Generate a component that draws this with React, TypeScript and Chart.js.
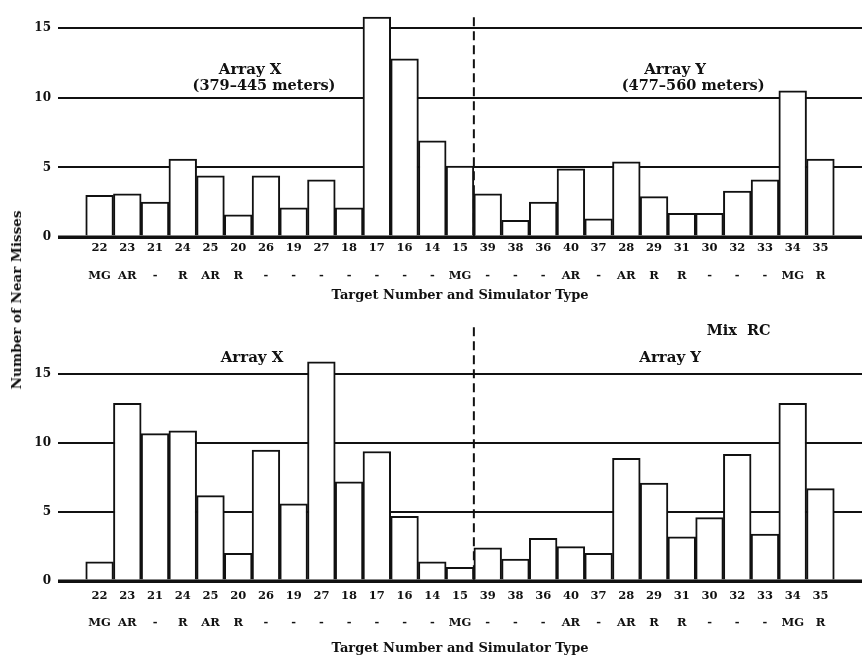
import React, { useEffect, useRef } from 'react';
import { Chart, registerables } from 'chart.js';

Chart.register(...registerables);

// ---- data ----
const targets = ['22', '23', '21', '24', '25', '20', '26', '19', '27', '18', '17', '16', '14', '15', '39', '38', '36', '40', '37', '28', '29', '31', '30', '32', '33', '34', '35'];
const simulatorTypes = ['MG', 'AR', '-', 'R', 'AR', 'R', '-', '-', '-', '-', '-', '-', '-', 'MG', '-', '-', '-', 'AR', '-', 'AR', 'R', 'R', '-', '-', '-', 'MG', 'R'];
const nearMissesTop = [3.0, 3.1, 2.5, 5.6, 4.4, 1.6, 4.4, 2.1, 4.1, 2.1, 15.8, 12.8, 6.9, 5.1, 3.1, 1.2, 2.5, 4.9, 1.3, 5.4, 2.9, 1.7, 1.7, 3.3, 4.1, 10.5, 5.6];
const nearMissesBottom = [1.4, 12.9, 10.7, 10.9, 6.2, 2.0, 9.5, 5.6, 15.9, 7.2, 9.4, 4.7, 1.4, 1.0, 2.4, 1.6, 3.1, 2.5, 2.0, 8.9, 7.1, 3.2, 4.6, 9.2, 3.4, 12.9, 6.7];
const yTickValues = [0, 5, 10, 15];
const lastArrayXTarget = '15';

const FONT = "'DejaVu Serif', serif";

type Note = { text: string; x: number; y: number; size: number };

function overlayPlugin(dividerTop: number, notes: Note[]) {
  return {
    id: 'overlay',
    afterDatasetsDraw(chart: any) {
      const { ctx, chartArea, scales } = chart;
      const xs = scales.x;
      const ys = scales.y;
      const y0 = ys.getPixelForValue(0);
      ctx.save();
      ctx.strokeStyle = '#111';
      ctx.lineWidth = 3;
      ctx.beginPath();
      ctx.moveTo(chartArea.left, y0);
      ctx.lineTo(chartArea.right, y0);
      ctx.stroke();
      // dashed divider between Array X and Array Y
      const idx = targets.indexOf(lastArrayXTarget) + 1; // padded index
      const xd = (xs.getPixelForValue(idx) + xs.getPixelForValue(idx + 1)) / 2;
      ctx.lineWidth = 2;
      ctx.setLineDash([9, 5]);
      ctx.beginPath();
      ctx.moveTo(xd, ys.getPixelForValue(dividerTop));
      ctx.lineTo(xd, y0);
      ctx.stroke();
      ctx.setLineDash([]);
      ctx.fillStyle = '#111';
      ctx.textAlign = 'center';
      ctx.textBaseline = 'middle';
      for (const n of notes) {
        ctx.font = `bold ${n.size}px ${FONT}`;
        ctx.fillText(n.text, xs.getPixelForValue(n.x), ys.getPixelForValue(n.y));
      }
      ctx.restore();
    },
  };
}

type PanelProps = {
  values: number[];
  height: number;
  axisHeight: number;
  yMax: number;
  padTop: number;
  tickPad: number;
  tickLine: number;
  titlePadBottom: number;
  dividerTop: number;
  notes: Note[];
};

function Panel(p: PanelProps) {
  const ref = useRef<HTMLCanvasElement | null>(null);
  useEffect(() => {
    if (!ref.current) return;
    const labels = [['', ''], ...targets.map((t, i) => [t, simulatorTypes[i]]), ['', '']];
    const data = [null, ...p.values, null];
    const chart = new Chart(ref.current, {
      type: 'bar',
      data: {
        labels,
        datasets: [
          {
            data,
            backgroundColor: '#ffffff',
            borderColor: '#111',
            borderWidth: 2,
            barPercentage: 1,
            categoryPercentage: 1,
          },
        ],
      },
      options: {
        responsive: false,
        animation: false,
        events: [],
        layout: { padding: { top: p.padTop, right: 2, left: 0, bottom: 0 } },
        plugins: { legend: { display: false }, tooltip: { enabled: false } },
        scales: {
          x: {
            type: 'category',
            offset: true,
            grid: { display: false, drawTicks: false },
            border: { display: false },
            ticks: {
              autoSkip: false,
              maxRotation: 0,
              minRotation: 0,
              padding: p.tickPad,
              color: '#111',
              font: { family: FONT, weight: 'bold', size: 11.5, lineHeight: `${p.tickLine}px` },
            },
            title: {
              display: true,
              text: 'Target Number and Simulator Type',
              color: '#111',
              padding: { top: 0, bottom: p.titlePadBottom },
              font: { family: FONT, weight: 'bold', size: 13, lineHeight: '20px' },
            },
            afterFit: (s: any) => {
              s.height = p.axisHeight;
            },
          },
          y: {
            min: 0,
            max: p.yMax,
            afterBuildTicks: (s: any) => {
              s.ticks = yTickValues.map((v) => ({ value: v }));
            },
            grid: {
              color: '#111',
              lineWidth: (c: any) => (c.tick && c.tick.value === 0 ? 3 : 2),
              drawTicks: false,
            },
            border: { display: false },
            ticks: {
              padding: 7,
              color: '#111',
              font: { family: FONT, weight: 'bold', size: 12 },
            },
            afterFit: (s: any) => {
              s.width = 58;
            },
          },
        },
      },
      plugins: [overlayPlugin(p.dividerTop, p.notes)],
    } as any);
    return () => chart.destroy();
  }, []);
  return <canvas ref={ref} width={864} height={p.height} style={{ display: 'block', width: 864, height: p.height }} />;
}

const topNotes: Note[] = [
  { text: 'Array X', x: 6.43, y: 12.0, size: 15 },
  { text: '(379–445 meters)', x: 6.93, y: 10.83, size: 14.5 },
  { text: 'Array Y', x: 21.76, y: 12.0, size: 15 },
  { text: '(477–560 meters)', x: 22.41, y: 10.83, size: 14.5 },
];

const bottomNotes: Note[] = [
  { text: 'Array X', x: 6.5, y: 16.2, size: 15 },
  { text: 'Array Y', x: 21.58, y: 16.2, size: 15 },
  { text: 'Mix  RC', x: 24.05, y: 18.15, size: 14.5 },
];

export default function App() {
  return (
    <div style={{ position: 'fixed', left: 0, top: 0, width: 864, height: 665, background: '#fff', overflow: 'hidden' }}>
      <div style={{ position: 'absolute', left: 0, top: 0 }}>
        <Panel
          values={nearMissesTop}
          height={310}
          axisHeight={73}
          yMax={16.0}
          padTop={7}
          tickPad={-3}
          tickLine={28}
          titlePadBottom={4}
          dividerTop={15.78}
          notes={topNotes}
        />
      </div>
      <div style={{ position: 'absolute', left: 0, top: 310 }}>
        <Panel
          values={nearMissesBottom}
          height={355}
          axisHeight={84}
          yMax={18.64}
          padTop={9}
          tickPad={1.5}
          tickLine={27}
          titlePadBottom={6}
          dividerTop={18.42}
          notes={bottomNotes}
        />
      </div>
      <div
        style={{
          position: 'absolute',
          left: 16,
          top: 300,
          transform: 'translate(-50%, -50%) rotate(-90deg)',
          whiteSpace: 'nowrap',
          fontFamily: FONT,
          fontWeight: 'bold',
          fontSize: 13.5,
          color: '#111',
        }}
      >
        Number of Near Misses
      </div>
    </div>
  );
}
